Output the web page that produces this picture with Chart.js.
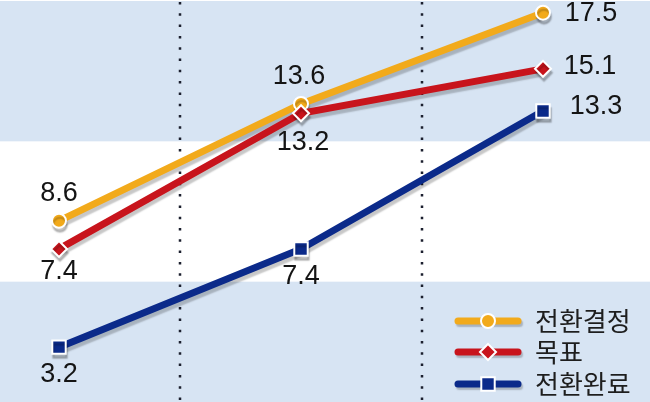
<!DOCTYPE html>
<html>
<head>
<meta charset="utf-8">
<script src="https://cdn.jsdelivr.net/npm/chart.js@4/dist/chart.umd.min.js"></script>
<style>
  html, body { margin: 0; padding: 0; background: #ffffff; }
  #frame { position: relative; width: 650px; height: 402px; overflow: hidden; background: #ffffff; }
  #c { position: absolute; left: -62px; top: 0; }
</style>
</head>
<body>
<div id="frame"><canvas id="c" width="726" height="423"></canvas></div>
<script>
// ---- data ----
const categories = ['1단계', '2단계', '3단계'];
const seriesNames = ['전환결정', '목표', '전환완료'];
const decisionValues = [8.6, 13.6, 17.5];
const targetValues = [7.4, 13.2, 15.1];
const completedValues = [3.2, 7.4, 13.3];
const bandEdges = [0, 6, 12, 18];

const SHIFT = 62; // canvas offset relative to page
const colors = ['#F2AA1B', '#C8141C', '#0B2A8A'];
const styles = ['circle', 'rectRot', 'rect'];

const bandsPlugin = {
  id: 'bands',
  beforeDatasetsDraw(chart) {
    const { ctx, scales: { x, y } } = chart;
    ctx.save();
    ctx.fillStyle = '#D7E4F3';
    const W = chart.width;
    [[bandEdges[0], bandEdges[1]], [bandEdges[2], bandEdges[3]]].forEach(([a, b]) => {
      const top = y.getPixelForValue(b);
      const bot = y.getPixelForValue(a);
      ctx.fillRect(0, top, W, bot - top);
    });
    ctx.strokeStyle = '#1b1f2e';
    ctx.lineWidth = 2.5;
    ctx.setLineDash([2.5, 8.8]);
    for (let i = 0; i < categories.length - 1; i++) {
      const xm = Math.round((x.getPixelForValue(i) + x.getPixelForValue(i + 1)) / 2);
      ctx.beginPath();
      ctx.moveTo(xm, 2);
      ctx.lineTo(xm, chart.height);
      ctx.stroke();
    }
    ctx.restore();
  }
};

const shadowPlugin = {
  id: 'shadow',
  beforeDatasetDraw(chart) {
    const ctx = chart.ctx;
    ctx.save();
    ctx.shadowColor = 'rgba(0,0,0,0.22)';
    ctx.shadowOffsetX = 1;
    ctx.shadowOffsetY = 4;
    ctx.shadowBlur = 1.5;
  },
  afterDatasetDraw(chart) {
    chart.ctx.restore();
  }
};

// label offsets (dx, dy) per series per point
const labelOffsets = [
  [[0, -27], [-2, -27], [48, 1]],
  [[0, 23], [2, 29], [47, -2]],
  [[0, 27], [0, 28], [53, -4]]
];

const labelPlugin = {
  id: 'valueLabels',
  afterDatasetsDraw(chart) {
    const ctx = chart.ctx;
    ctx.save();
    ctx.font = '27px "Liberation Sans", Arial, sans-serif';
    ctx.fillStyle = '#141414';
    ctx.textAlign = 'center';
    ctx.textBaseline = 'middle';
    chart.data.datasets.forEach((ds, di) => {
      const meta = chart.getDatasetMeta(di);
      meta.data.forEach((pt, i) => {
        const off = labelOffsets[di][i];
        ctx.fillText(ds.data[i].toFixed(1), pt.x + off[0], pt.y + off[1]);
      });
    });
    ctx.restore();
  }
};

const legendPlugin = {
  id: 'customLegend',
  afterDraw(chart) {
    const ctx = chart.ctx;
    const rows = [321, 352, 384];
    const x0 = 458 + SHIFT, x1 = 518 + SHIFT, xm = 488 + SHIFT;
    ctx.save();
    chart.data.datasets.forEach((ds, i) => {
      const y = rows[i];
      ctx.save();
      ctx.shadowColor = 'rgba(0,0,0,0.22)';
      ctx.shadowOffsetX = 1.5;
      ctx.shadowOffsetY = 2.5;
      ctx.shadowBlur = 1.5;
      ctx.strokeStyle = ds.borderColor;
      ctx.lineWidth = 7;
      ctx.lineCap = 'round';
      ctx.beginPath();
      ctx.moveTo(x0, y);
      ctx.lineTo(x1, y);
      ctx.stroke();
      ctx.restore();
      ctx.save();
      ctx.fillStyle = ds.pointBackgroundColor;
      ctx.strokeStyle = '#ffffff';
      ctx.lineWidth = 2;
      Chart.helpers.drawPoint(ctx, {
        pointStyle: ds.pointStyle,
        radius: ds.pointRadius,
        borderWidth: 2,
        rotation: 0
      }, xm, y);
      ctx.restore();
    });
    ctx.font = '26px "Noto Sans CJK KR", sans-serif';
    ctx.fillStyle = '#1e1e1e';
    ctx.textAlign = 'left';
    ctx.textBaseline = 'middle';
    chart.data.datasets.forEach((ds, i) => {
      ctx.fillText(ds.label, 535 + SHIFT, rows[i]);
    });
    ctx.restore();
  }
};

function makeDataset(i, values, radius, order) {
  return {
    label: seriesNames[i],
    data: values,
    borderColor: colors[i],
    backgroundColor: colors[i],
    borderWidth: 7,
    pointStyle: styles[i],
    pointRadius: radius,
    pointHoverRadius: radius,
    pointBackgroundColor: colors[i],
    pointBorderColor: '#ffffff',
    pointBorderWidth: 2,
    tension: 0,
    clip: false,
    order: order
  };
}

new Chart(document.getElementById('c'), {
  type: 'line',
  data: {
    labels: categories,
    datasets: [
      makeDataset(0, decisionValues, 7, 3),
      makeDataset(1, targetValues, 8, 2),
      makeDataset(2, completedValues, 9.5, 1)
    ]
  },
  options: {
    responsive: false,
    animation: false,
    devicePixelRatio: 1,
    layout: { autoPadding: false, padding: { top: 1, bottom: 1, left: 0, right: 0 } },
    plugins: { legend: { display: false }, tooltip: { enabled: false } },
    scales: {
      x: { type: 'category', offset: true, display: false },
      y: { min: 0, max: 18, display: false }
    }
  },
  plugins: [bandsPlugin, shadowPlugin, labelPlugin, legendPlugin]
});
</script>
</body>
</html>
